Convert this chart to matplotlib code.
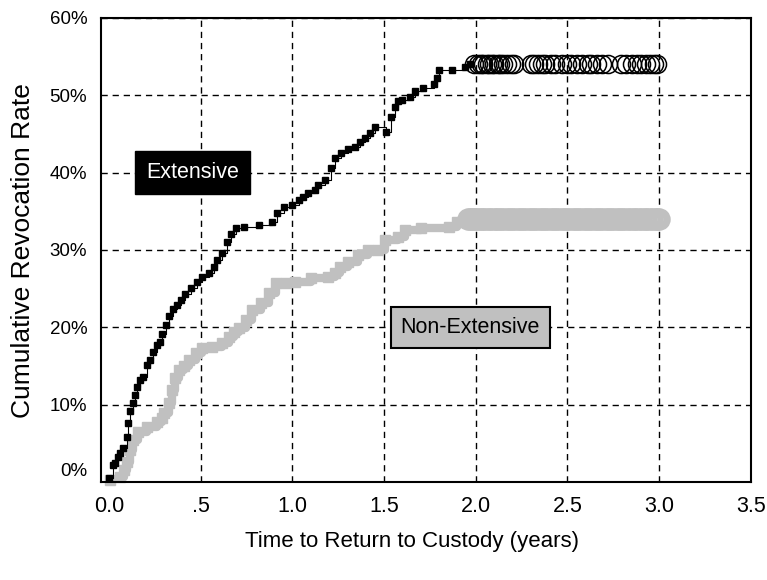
import numpy as np
import matplotlib
matplotlib.use("Agg")
import matplotlib.pyplot as plt
from matplotlib.ticker import FixedLocator, FixedFormatter
from matplotlib.transforms import ScaledTranslation

plt.rcParams["font.family"] = ["Liberation Sans", "DejaVu Sans"]

# Extensive group: event times (years) and cumulative revocation rate
ext_t = [0.00, 0.022, 0.032, 0.049, 0.06, 0.076, 0.097, 0.103, 0.114, 0.13,
         0.141, 0.152, 0.168, 0.184, 0.206, 0.222, 0.238, 0.26, 0.276, 0.292,
         0.314, 0.33, 0.352, 0.373, 0.395, 0.417, 0.449, 0.482, 0.509, 0.547,
         0.574, 0.59, 0.617, 0.644, 0.666, 0.693, 0.736, 0.817, 0.887, 0.915,
         0.952, 0.996, 1.034, 1.06, 1.088, 1.126, 1.142, 1.18, 1.212, 1.234,
         1.266, 1.304, 1.342, 1.369, 1.396, 1.423, 1.45, 1.51, 1.537, 1.558,
         1.575, 1.60, 1.64, 1.667, 1.71, 1.775, 1.79, 1.80, 1.87, 1.94, 1.97]
ext_y = [0.5, 2.2, 2.5, 3.2, 3.75, 4.4, 5.8, 7.6, 9.2, 10.2,
         11.3, 12.3, 13.2, 13.6, 15.1, 15.8, 16.8, 17.7, 18.1, 19.1,
         20.3, 21.5, 22.4, 22.9, 23.5, 24.3, 25.1, 25.9, 26.5, 27.0,
         27.8, 28.7, 29.6, 31.0, 32.1, 32.9, 33.0, 33.2, 33.6, 34.8,
         35.6, 35.8, 36.5, 36.9, 37.4, 37.8, 38.4, 39.1, 40.6, 41.9,
         42.6, 43.0, 43.3, 43.9, 44.5, 45.1, 45.9, 45.3, 47.2, 48.5,
         49.2, 49.4, 49.8, 50.5, 51.0, 51.4, 52.3, 53.3, 53.3, 53.7, 54.0]
ext_cens = [1.99, 2.01, 2.03, 2.04, 2.06, 2.07, 2.09, 2.10, 2.12, 2.13, 2.15,
            2.17, 2.19, 2.21, 2.30, 2.32, 2.34, 2.36, 2.38, 2.41, 2.43, 2.47,
            2.50, 2.52, 2.55, 2.58, 2.61, 2.63, 2.66, 2.69, 2.72, 2.79, 2.82,
            2.85, 2.88, 2.90, 2.93, 2.95, 2.97, 2.99]
ext_cens_y = 54.0

# Non-Extensive group
non_t = [0.005, 0.06, 0.08, 0.097, 0.114, 0.13, 0.157, 0.206, 0.26, 0.287,
         0.303, 0.33, 0.346, 0.363, 0.384, 0.411, 0.438, 0.476, 0.509, 0.563,
         0.617, 0.655, 0.682, 0.709, 0.747, 0.779, 0.828, 0.871, 0.909, 0.963,
         1.017, 1.104, 1.196, 1.234, 1.261, 1.304, 1.358, 1.412, 1.466, 1.504,
         1.575, 1.613, 1.70, 1.856, 1.90, 1.95]
non_y = [0.3, 0.6, 1.5, 2.6, 4.1, 5.4, 6.5, 7.1, 7.8, 8.3,
         8.9, 10.2, 11.9, 13.5, 14.5, 15.0, 15.8, 16.7, 17.3, 17.5,
         18.0, 18.8, 19.4, 19.9, 21.0, 22.3, 23.2, 24.5, 25.7, 25.7,
         25.9, 26.4, 26.5, 27.0, 27.8, 28.5, 29.4, 30.0, 30.0, 31.3,
         31.7, 32.6, 32.9, 33.0, 33.6, 34.0]
non_cens = [1.96, 1.97, 1.98, 1.99, 2.00, 2.01, 2.03, 2.04, 2.05, 2.07, 2.08,
            2.10, 2.11, 2.12, 2.14, 2.15, 2.17, 2.18, 2.20, 2.21, 2.23, 2.24,
            2.26, 2.27, 2.29, 2.30, 2.32, 2.33, 2.35, 2.36, 2.38, 2.39, 2.41,
            2.42, 2.44, 2.45, 2.47, 2.48, 2.50, 2.51, 2.53, 2.54, 2.56, 2.57,
            2.59, 2.60, 2.62, 2.63, 2.65, 2.66, 2.68, 2.69, 2.71, 2.72, 2.74,
            2.75, 2.77, 2.78, 2.80, 2.81, 2.83, 2.84, 2.86, 2.87, 2.89, 2.90,
            2.92, 2.93, 2.95, 2.96, 2.98, 2.99, 3.00]
non_cens_y = 34.0

x_ticks = [0.0, 0.5, 1.0, 1.5, 2.0, 2.5, 3.0, 3.5]
x_labels = ["0.0", ".5", "1.0", "1.5", "2.0", "2.5", "3.0", "3.5"]
y_ticks = [0, 10, 20, 30, 40, 50, 60]
y_labels = ["0%", "10%", "20%", "30%", "40%", "50%", "60%"]

GRAY = "#c0c0c0"

fig = plt.figure(figsize=(7.67, 5.8), dpi=100)
ax = fig.add_axes([0.1317, 0.169, 0.8473, 0.800])

# non-extensive: thick grey band of squares
ax.plot(non_t, non_y, drawstyle="steps-post", color=GRAY, lw=6, zorder=3)
ax.plot(non_t, non_y, "s", color=GRAY, ms=7.5, zorder=3, clip_on=False)
ax.plot(non_cens, [non_cens_y] * len(non_cens), "o", mfc="none", mec=GRAY,
        ms=13, mew=3.2, zorder=3)

# extensive: small black squares, open circles for censored cases
ax.plot(ext_t, ext_y, drawstyle="steps-post", color="black", lw=0.8, zorder=4)
ax.plot(ext_t, ext_y, "s", color="black", ms=4.5, zorder=4, clip_on=False)
ax.plot(ext_cens, [ext_cens_y] * len(ext_cens), "o", mfc="none", mec="black",
        ms=13, mew=1.1, zorder=4)

ax.set_xlim(-0.043, 3.5)
ax.set_ylim(0, 60)

ax.xaxis.set_major_locator(FixedLocator(x_ticks))
ax.xaxis.set_major_formatter(FixedFormatter(x_labels))
ax.yaxis.set_major_locator(FixedLocator(y_ticks))
ax.yaxis.set_major_formatter(FixedFormatter(y_labels))
ax.tick_params(axis="x", length=0, pad=10, labelsize=15.5)
ax.tick_params(axis="y", length=0, pad=10, labelsize=13.5)

ax.grid(True, color="black", lw=1.0, linestyle=(0, (4.5, 3.5)), zorder=1)
ax.set_axisbelow(True)
ax.xaxis.get_gridlines()[0].set_visible(False)
ax.yaxis.get_gridlines()[0].set_visible(False)

for sp in ax.spines.values():
    sp.set_linewidth(1.5)
    sp.set_zorder(5)

# lift the 0% label off the axis line
lab0 = ax.yaxis.get_ticklabels()[0]
lab0.set_transform(lab0.get_transform() + ScaledTranslation(0, 9 / 72, fig.dpi_scale_trans))

ax.text(0.455, 40, "Extensive", color="white", fontsize=15.5, ha="center", va="center",
        zorder=6, bbox=dict(boxstyle="square,pad=0.5", fc="black", ec="black", lw=1))
ax.text(1.97, 20, "Non-Extensive", color="black", fontsize=15.5, ha="center", va="center",
        zorder=6, bbox=dict(boxstyle="square,pad=0.45", fc=GRAY, ec="black", lw=1.5))

fig.text(412 / 767, 1 - 541 / 580, "Time to Return to Custody (years)",
         fontsize=16, ha="center", va="center")
fig.text(23 / 767, 1 - 251 / 580, "Cumulative Revocation Rate",
         fontsize=19, ha="center", va="center", rotation=90)

fig.savefig("out.png", dpi=100, facecolor="white")
